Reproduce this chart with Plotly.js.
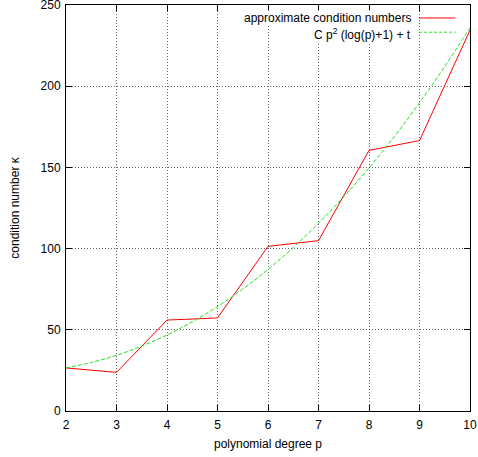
<!DOCTYPE html>
<html>
<head>
<meta charset="utf-8">
<script src="https://cdn.plot.ly/plotly-3.0.1.min.js"></script>
<style>body{margin:0;padding:0;background:#fff}#chart{width:478px;height:457px}</style>
</head>
<body>
<div id="chart"></div>
<script>
// Data
const degrees = [2, 3, 4, 5, 6, 7, 8, 9, 10];
const conditionNumbers = [26.5, 23.8, 56.0, 57.3, 101.4, 104.9, 160.5, 166.5, 234.5];
const fitDegrees = [2, 2.5, 3, 3.5, 4, 4.5, 5, 5.5, 6, 6.5, 7, 7.5, 8, 8.5, 9, 9.5, 10];
const fitValues = [26.5, 29.9, 34.3, 40.0, 46.8, 54.9, 64.3, 75.1, 87.2, 100.7, 115.6, 131.9, 149.7, 169.0, 189.8, 212.1, 236.0];
const seriesNames = ["approximate condition numbers", "C p<sup>2</sup> (log(p)+1) + t"];
const xTicks = [2, 3, 4, 5, 6, 7, 8, 9, 10];
const yTicks = [0, 50, 100, 150, 200, 250];

const font = {family: "Liberation Sans, Arial, sans-serif", size: 12, color: "#000"};
const green = "#22e022";

const traces = [
  {x: degrees, y: conditionNumbers, mode: "lines", name: seriesNames[0],
   line: {color: "#ff0000", width: 1}},
  {x: fitDegrees, y: fitValues, mode: "lines", name: seriesNames[1],
   line: {color: green, width: 1, dash: "4px,2px", shape: "spline"}}
];

const axisCommon = {
  showline: true, linecolor: "#000", linewidth: 1, mirror: "ticks",
  ticks: "inside", ticklen: 6, tickcolor: "#000", tickwidth: 1,
  showgrid: true, gridcolor: "rgba(0,0,0,0.6)", gridwidth: 1, griddash: "1px,2px",
  zeroline: false, tickfont: font, ticklabeloverflow: "allow"
};

const layout = {
  width: 478, height: 457,
  margin: {l: 66, r: 8, t: 5, b: 46},
  paper_bgcolor: "#fff", plot_bgcolor: "#fff",
  showlegend: false,
  font: font,
  xaxis: Object.assign({}, axisCommon, {range: [2, 10], tickvals: xTicks, ticktext: xTicks.map(String),
    ticklabelstandoff: 3,
    title: {text: "polynomial degree p", font: font, standoff: 8}}),
  yaxis: Object.assign({}, axisCommon, {range: [0, 250], tickvals: yTicks, ticktext: yTicks.map(String),
    ticklabelstandoff: 2,
    title: {text: "condition number κ", font: font, standoff: 18}}),
  annotations: [
    {xref: "paper", yref: "paper", x: 0.857, y: 0.968, xanchor: "right", yanchor: "middle",
     text: seriesNames[0], showarrow: false, font: font, bgcolor: "#fff", borderpad: 0},
    {xref: "paper", yref: "paper", x: 0.857, y: 0.928, xanchor: "right", yanchor: "middle",
     text: seriesNames[1], showarrow: false, font: font, bgcolor: "#fff", borderpad: 0}
  ],
  shapes: [
    {type: "line", xref: "paper", yref: "paper", x0: 0.874, x1: 0.964, y0: 0.968, y1: 0.968,
     line: {color: "#ff0000", width: 1}},
    {type: "line", xref: "paper", yref: "paper", x0: 0.874, x1: 0.964, y0: 0.933, y1: 0.933,
     line: {color: green, width: 1, dash: "3px,2px"}}
  ]
};

Plotly.newPlot("chart", traces, layout, {displayModeBar: false, staticPlot: true});
</script>
</body>
</html>
